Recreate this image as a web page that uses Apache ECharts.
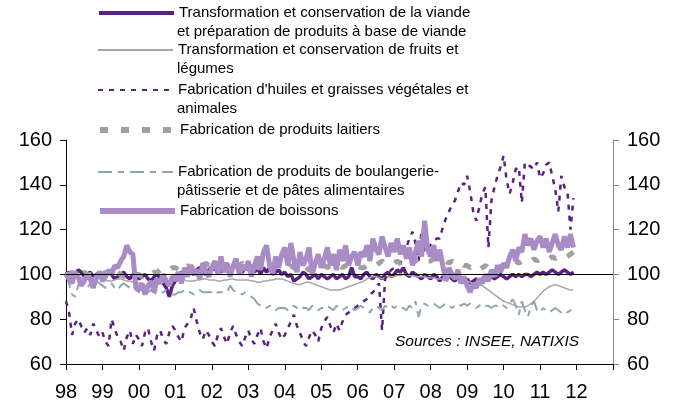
<!DOCTYPE html>
<html>
<head>
<meta charset="utf-8">
<script src="https://cdn.jsdelivr.net/npm/echarts@6/dist/echarts.min.js"></script>
<style>
  html, body { margin: 0; padding: 0; background: #fff; }
  #chart { width: 682px; height: 408px; }
</style>
</head>
<body>
<div id="chart"></div>
<script>
// labels des années (une graduation tous les 12 mois, janv. 1998 -> 2012)
const yearLabels = ['98', '99', '00', '01', '02', '03', '04', '05', '06', '07', '08', '09', '10', '11', '12'];

// séries mensuelles, janv. 1998 -> déc. 2011
const viande = [
  100, 101, 99, 100, 102, 101, 99, 100, 101, 99, 100, 101,
  100, 99, 101, 100, 98, 99, 100, 101, 99, 98, 100, 99,
  98, 99, 100, 98, 97, 99, 100, 98, 96, 94, 90, 95,
  97, 99, 101, 100, 102, 101, 100, 102, 103, 101, 100, 102,
  103, 102, 104, 101, 103, 105, 100, 103, 104, 102, 101, 103,
  102, 104, 101, 103, 100, 103, 101, 103, 100, 101, 102, 100,
  101, 99, 100, 97, 98, 99, 101, 100, 98, 99, 100, 98,
  100, 99, 98, 99, 100, 98, 99, 100, 98, 99, 103, 99,
  99, 98, 100, 101, 99, 98, 100, 99, 98, 100, 101, 99,
  100, 102, 101, 103, 100, 99, 101, 100, 99, 98, 100, 99,
  98, 100, 99, 97, 99, 98, 100, 98, 97, 99, 98, 97,
  98, 96, 97, 98, 97, 98, 99, 98, 99, 98, 99, 100,
  99, 98, 99, 100, 99, 100, 99, 100, 100, 99, 100, 101,
  100, 101, 100, 101, 102, 101, 100, 101, 102, 101, 100, 101
];
const fruits = [
  100, 99.5, 99, 99, 98.5, 98.5, 98, 98, 98.5, 98.5, 98.5, 98,
  98, 97.5, 97, 97, 97.5, 98, 98, 97.5, 97, 97, 96.5, 96.5,
  96, 95.5, 95, 95, 95.5, 95.5, 96, 96, 96.5, 96.5, 97, 97,
  97, 97, 97.5, 97.5, 97, 97, 97, 97.5, 97.5, 98, 98, 97.5,
  97.5, 97.5, 97, 97, 97.5, 97.5, 98, 98, 97.5, 97.5, 97.5, 97.5,
  97.5, 97, 97, 96.5, 96.5, 97, 97, 97.5, 97.5, 98, 98, 98,
  97.5, 97, 96.5, 96, 95.5, 95.5, 96, 96.5, 96.5, 96, 95.5, 95,
  94.5, 94, 93.5, 93, 93, 93, 93, 93.5, 94, 94.5, 95, 95.5,
  96, 96.5, 97, 98, 98.5, 99, 99, 98.5, 98, 98.5, 99, 99,
  99, 99.5, 99.5, 100, 100, 99.5, 99.5, 99, 99, 99, 99, 98.5,
  98.5, 98.5, 98, 98, 98, 98.5, 99, 99, 99, 98.5, 98, 97.5,
  97, 96.5, 96, 96, 95.5, 95, 94, 93, 92, 91, 90, 89,
  88, 87.5, 87, 86.5, 86, 85.5, 85.5, 85.5, 86, 87, 88, 89.5,
  91, 92.5, 93.5, 94.5, 95, 95.5, 95, 94.5, 94, 93.5, 93, 93
];
const huiles = [
  88, 83, 73, 78, 80, 77, 74, 76, 73, 78, 75, 72,
  74, 70, 68, 80, 76, 72, 70, 66, 72, 75, 69, 73,
  71, 68, 74, 76, 70, 66, 73, 75, 71, 69, 74, 77,
  75, 72, 70, 76, 78, 80, 85, 79, 74, 71, 75, 73,
  70, 68, 73, 76, 72, 69, 74, 77, 73, 70, 68, 72,
  75, 71, 69, 73, 76, 70, 67, 72, 75, 78, 74, 71,
  73, 76, 79, 82, 77, 74, 70, 68, 72, 75, 73, 70,
  76, 79, 81, 77, 74, 78, 75, 79, 82, 83, 84, 85,
  86, 87, 88, 89, 91, 92, 94, 96, 75, 98, 100, 102,
  103, 104, 105, 108, 112, 116, 119, 114, 106, 119, 110, 112,
  113, 115, 116, 116, 121, 125, 128, 131, 133, 137, 141, 140,
  144, 137, 128, 124, 130, 136, 139, 112, 133, 139, 144, 148,
  153, 142, 136, 141, 147, 148, 132, 150, 149, 148, 147, 150,
  143, 145, 149, 150, 144, 138, 128, 144, 139, 137, 120, 134
];
const laitiers = [
  100, 100, 101, 100, 99, 100, 101, 100, 100, 99, 100, 101,
  100, 101, 100, 99, 100, 101, 100, 99, 100, 101, 100, 100,
  100, 99, 100, 99, 100, 101, 101, 102, 101, 102, 102, 103,
  103, 102, 104, 103, 104, 103, 104, 103, 105, 104, 105, 104,
  105, 104, 105, 104, 103, 104, 105, 104, 103, 104, 105, 104,
  104, 105, 104, 103, 104, 105, 104, 103, 104, 104, 103, 104,
  104, 103, 104, 103, 102, 103, 104, 103, 102, 103, 104, 103,
  103, 104, 103, 104, 104, 103, 104, 103, 104, 104, 103, 104,
  104, 103, 103, 104, 103, 103, 104, 105, 106, 105, 104, 105,
  105, 106, 105, 106, 107, 106, 105, 106, 107, 106, 107, 106,
  106, 107, 106, 107, 107, 106, 105, 106, 105, 104, 105, 104,
  104, 103, 104, 103, 102, 103, 104, 103, 104, 103, 104, 103,
  104, 105, 104, 105, 106, 105, 106, 107, 106, 106, 107, 106,
  107, 106, 107, 107, 108, 107, 108, 108, 107, 108, 109, 110
];
const boulangerie = [
  100, 96, 91, 90, 95, 97, 96, 94, 96, 95, 97, 96,
  95, 94, 95, 96, 94, 93, 95, 96, 95, 94, 93, 93,
  92, 92, 91, 92, 93, 92, 91, 92, 92, 93, 92, 91,
  91, 92, 92, 93, 92, 92, 91, 92, 93, 92, 92, 92,
  92, 91, 92, 92, 92, 92, 95, 93, 92, 92, 91, 92,
  91, 90, 89, 87, 86, 86, 85, 86, 85, 84, 85, 85,
  85, 84, 85, 86, 85, 84, 85, 85, 84, 86, 85, 84,
  85, 85, 86, 85, 84, 86, 85, 84, 85, 86, 85, 84,
  85, 86, 85, 84, 83, 85, 86, 85, 84, 86, 85, 86,
  85, 86, 85, 85, 84, 86, 85, 88, 81, 86, 87, 86,
  86, 87, 86, 85, 86, 87, 86, 85, 86, 87, 86, 87,
  86, 87, 86, 85, 86, 87, 86, 86, 85, 86, 86, 87,
  86, 85, 87, 89, 86, 82, 88, 84, 81, 86, 88, 84,
  83, 85, 84, 83, 84, 85, 84, 83, 84, 83, 84, 84
];
const boissons = [
  100, 98, 96, 101, 99, 95, 97, 100, 98, 94, 99, 101,
  97, 99, 102, 100, 104, 103, 106, 108, 113, 110, 109, 94,
  93, 96, 91, 95, 97, 92, 98, 96, 100, 97, 95, 99,
  98, 101, 96, 103, 99, 104, 100, 102, 98, 105, 101, 99,
  103, 106, 100, 108, 101, 105, 99, 104, 107, 100, 104, 102,
  106, 99, 104, 108, 102, 110, 113, 104, 100, 108, 103, 109,
  112, 104, 114, 106, 101, 110, 104, 107, 112, 100, 105, 109,
  103, 107, 112, 104, 109, 102, 111, 106, 113, 104, 108, 110,
  104, 110, 108, 113, 106, 116, 111, 109, 117, 112, 108, 114,
  110, 116, 109, 113, 107, 112, 104, 110, 115, 108, 124, 111,
  108, 113, 106, 111, 104, 97, 103, 100, 98, 102, 96, 99,
  95, 92, 96, 94, 98, 96, 100, 97, 102, 99, 104, 101,
  105, 103, 108, 111, 106, 112, 110, 118, 113, 116, 111, 115,
  117, 112, 116, 110, 114, 118, 113, 111, 117, 112, 118, 112
];

const names = [
  'Transformation et conservation de la viande',
  'Transformation et conservation de fruits et',
  "Fabrication d'huiles et graisses végétales et",
  'Fabrication de produits laitiers',
  'Fabrication de produits de boulangerie-',
  'Fabrication de boissons'
];
const secondLines = [
  'et préparation de produits à base de viande',
  'légumes',
  'animales',
  '',
  'pâtisserie et de pâtes alimentaires',
  ''
];

const FONT = "'Liberation Sans', Arial, sans-serif";
const toPts = (arr) => arr.map((v, i) => [i, v]);

const styles = [
  { color: '#5B2180', width: 3.5, legendWidth: 4, type: 'solid' },
  { color: '#A6A6A6', width: 1.5, legendWidth: 2, type: 'solid' },
  { color: '#5B2180', width: 2.5, legendWidth: 2, type: [5, 6] },
  { color: '#A0A0A0', width: 5, legendWidth: 6, type: [8, 13] },
  { color: '#8DA6B3', width: 2, legendWidth: 2, type: [14, 6, 6, 6] },
  { color: '#A98BC6', width: 5, legendWidth: 6, type: 'solid' }
];
const datasets = [viande, fruits, huiles, laitiers, boulangerie, boissons];
// centre vertical de la 1re ligne de chaque entrée de légende
const legendY = [13, 50, 90, 130, 172, 211];

const series = datasets.map((d, k) => ({
  name: names[k],
  type: 'line',
  symbol: 'none',
  data: toPts(d),
  color: styles[k].color,
  lineStyle: { color: styles[k].color, width: styles[k].width, type: styles[k].type },
  animation: false
}));
series[5].markLine = {
  silent: true,
  symbol: 'none',
  label: { show: false },
  lineStyle: { color: '#000', width: 1, type: 'solid' },
  data: [{ yAxis: 100 }],
  animation: false
};

const legends = names.map((n, k) => ({
  left: 97,
  top: legendY[k] - 8,
  padding: 0,
  itemWidth: 75,
  itemHeight: 14,
  itemGap: 0,
  data: [n],
  itemStyle: { opacity: 0 },
  lineStyle: { width: styles[k].legendWidth },
  textStyle: { fontFamily: FONT, fontSize: 15, color: '#000', lineHeight: 16 },
  selectedMode: false
}));

const graphics = [];
secondLines.forEach((t, k) => {
  if (!t) return;
  graphics.push({
    type: 'text', left: 177, top: legendY[k] + 19.5 - 8.5,
    style: { text: t, font: '15px ' + FONT, fill: '#000' }
  });
});
graphics.push({
  type: 'text', left: 395, top: 334,
  style: { text: 'Sources : INSEE, NATIXIS', font: 'italic 15.5px ' + FONT, fill: '#000' }
});

const yAxisBase = {
  type: 'value', min: 60, max: 160, interval: 20,
  splitLine: { show: false },
  axisTick: { show: true, inside: false, length: 6 }
};

const chart = echarts.init(document.getElementById('chart'));
chart.setOption({
  animation: false,
  grid: { left: 66, right: 69, top: 140, bottom: 44 },
  legend: legends,
  graphic: graphics,
  xAxis: {
    type: 'value', min: 0, max: 180, interval: 12,
    splitLine: { show: false },
    axisLine: { lineStyle: { color: '#000', width: 1 } },
    axisTick: { length: 6, lineStyle: { color: '#000' } },
    axisLabel: {
      fontFamily: FONT, fontSize: 20, color: '#000', margin: 18,
      formatter: (v) => (v / 12 < yearLabels.length ? yearLabels[v / 12] : '')
    }
  },
  yAxis: [
    Object.assign({}, yAxisBase, {
      position: 'left',
      axisLine: { show: true, lineStyle: { color: '#000' } },
      axisTick: { show: true, length: 6, lineStyle: { color: '#000' } },
      axisLabel: { fontFamily: FONT, fontSize: 20, color: '#000', margin: 14 }
    }),
    Object.assign({}, yAxisBase, {
      position: 'right',
      axisLine: { show: true, lineStyle: { color: '#888' } },
      axisTick: { show: true, length: 6, lineStyle: { color: '#888' } },
      axisLabel: { fontFamily: FONT, fontSize: 20, color: '#000', margin: 14 }
    })
  ],
  series: series
});
</script>
</body>
</html>
